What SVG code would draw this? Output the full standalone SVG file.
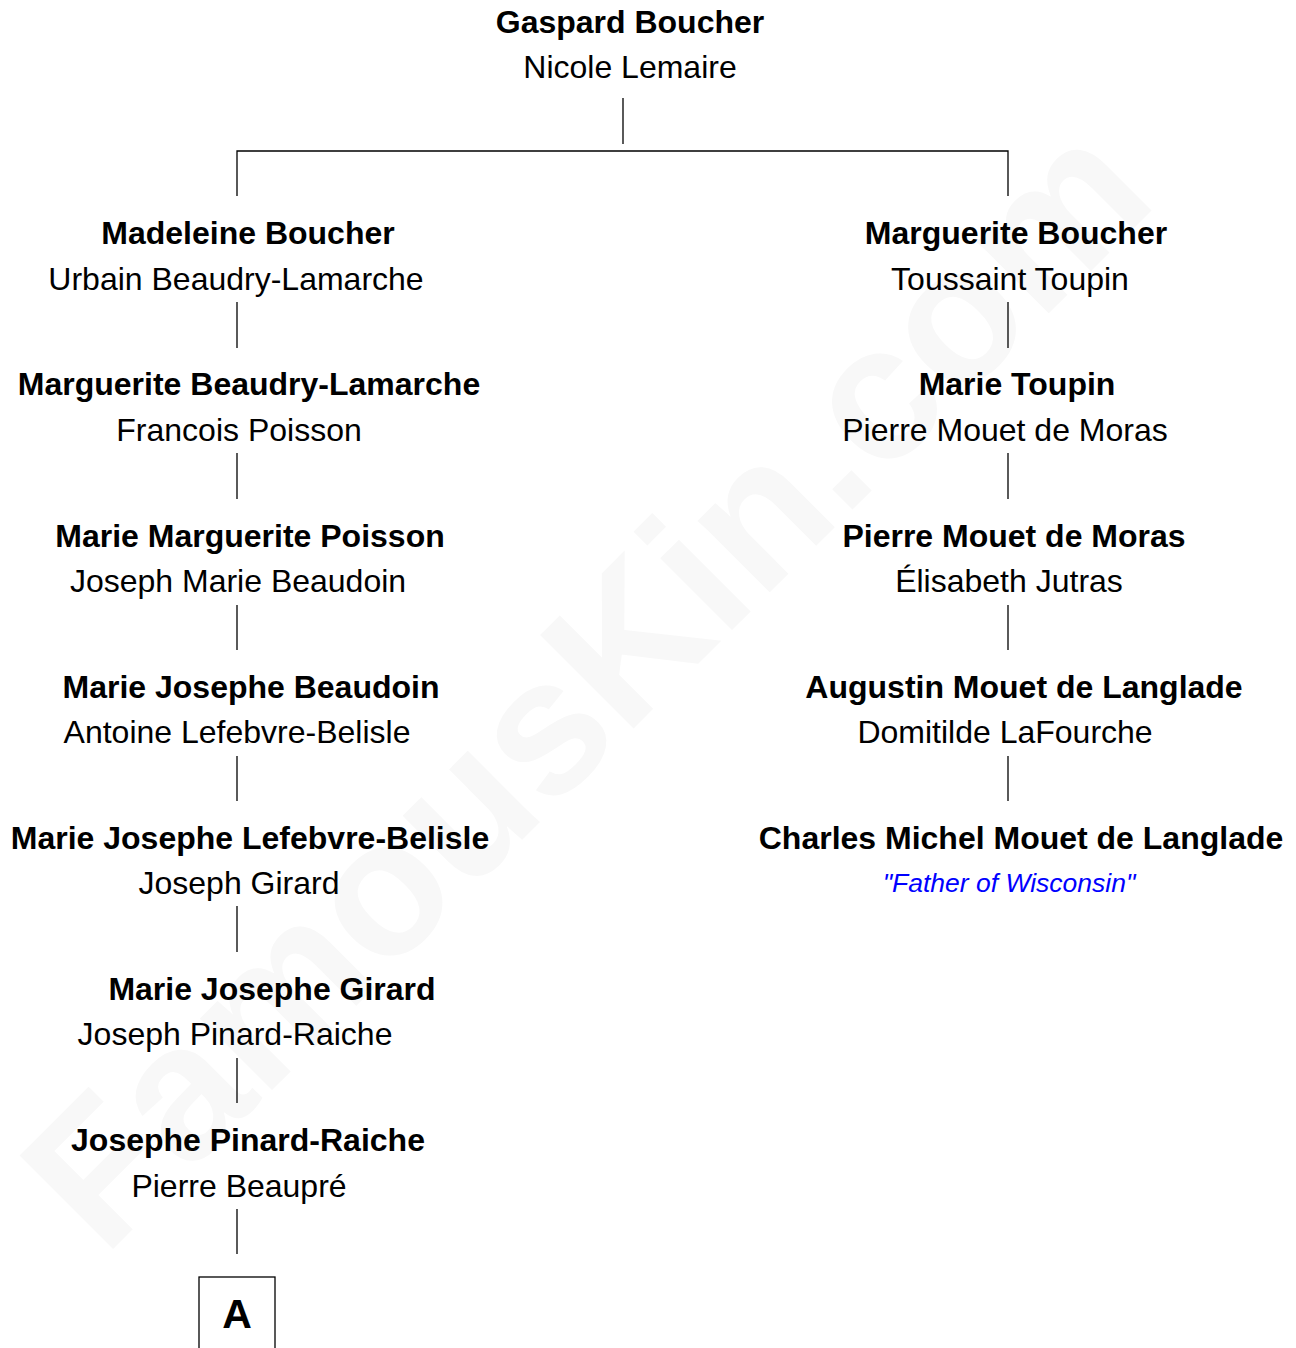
<svg xmlns="http://www.w3.org/2000/svg" width="1296" height="1348" viewBox="0 0 1296 1348">
<style>
text{font-family:"Liberation Sans",Arial,sans-serif;text-anchor:middle;font-size:32px;fill:#000}
.b{font-weight:bold}
.q{font-style:italic;fill:#0000ff;font-size:26.5px}
.wm{font-weight:bold;font-size:192px;fill:#f8f8f8}
.c line,.c path{stroke:#000;stroke-width:1.3;fill:none}
</style>
<rect width="1296" height="1348" fill="#fff"/>
<text class="wm" transform="translate(632,730) rotate(-45)">FamousKin.com</text>
<g class="c" id="connectors">
<line x1="623" y1="98" x2="623" y2="144"/>
<path d="M237,196 V151 H1008 V196"/>
<line x1="237" y1="302" x2="237" y2="348"/>
<line x1="237" y1="453" x2="237" y2="499"/>
<line x1="237" y1="605" x2="237" y2="650"/>
<line x1="237" y1="756" x2="237" y2="801"/>
<line x1="237" y1="906" x2="237" y2="952"/>
<line x1="237" y1="1058" x2="237" y2="1103"/>
<line x1="237" y1="1209" x2="237" y2="1254"/>
<line x1="1008" y1="302" x2="1008" y2="348"/>
<line x1="1008" y1="453" x2="1008" y2="499"/>
<line x1="1008" y1="605" x2="1008" y2="650"/>
<line x1="1008" y1="756" x2="1008" y2="801"/>
</g>
<g id="n0"><text class="b" x="630" y="33">Gaspard Boucher</text><text x="630" y="78">Nicole Lemaire</text></g>
<g id="l1"><text class="b" x="248" y="244">Madeleine Boucher</text><text x="236" y="290">Urbain Beaudry-Lamarche</text></g>
<g id="l2"><text class="b" x="249" y="395">Marguerite Beaudry-Lamarche</text><text x="239" y="441">Francois Poisson</text></g>
<g id="l3"><text class="b" x="250" y="547">Marie Marguerite Poisson</text><text x="238" y="592">Joseph Marie Beaudoin</text></g>
<g id="l4"><text class="b" x="251" y="698">Marie Josephe Beaudoin</text><text x="237" y="743">Antoine Lefebvre-Belisle</text></g>
<g id="l5"><text class="b" x="250" y="849">Marie Josephe Lefebvre-Belisle</text><text x="239" y="894">Joseph Girard</text></g>
<g id="l6"><text class="b" x="272" y="1000">Marie Josephe Girard</text><text x="235" y="1045">Joseph Pinard-Raiche</text></g>
<g id="l7"><text class="b" x="248" y="1151">Josephe Pinard-Raiche</text><text x="239" y="1197">Pierre Beaupré</text></g>
<g id="a"><rect x="199" y="1277" width="76" height="80" fill="none" stroke="#000" stroke-width="1.3"/><text class="b" x="237" y="1328" style="font-size:41px">A</text></g>
<g id="r1"><text class="b" x="1016" y="244">Marguerite Boucher</text><text x="1010" y="290">Toussaint Toupin</text></g>
<g id="r2"><text class="b" x="1017" y="395">Marie Toupin</text><text x="1005" y="441">Pierre Mouet de Moras</text></g>
<g id="r3"><text class="b" x="1014" y="547">Pierre Mouet de Moras</text><text x="1009" y="592">Élisabeth Jutras</text></g>
<g id="r4"><text class="b" x="1024" y="698">Augustin Mouet de Langlade</text><text x="1005" y="743">Domitilde LaFourche</text></g>
<g id="r5"><text class="b" x="1021" y="849">Charles Michel Mouet de Langlade</text><text class="q" x="1009" y="892">"Father of Wisconsin"</text></g>
</svg>
